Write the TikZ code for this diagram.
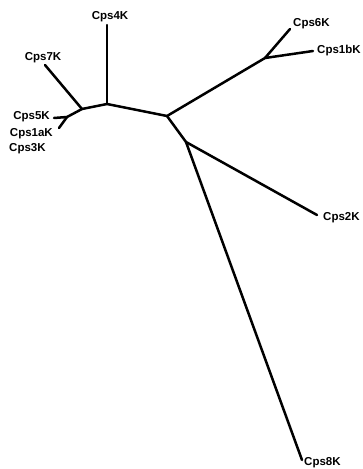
\documentclass[tikz,border=0pt]{standalone}
\usepackage{fontspec}
\setmainfont{Liberation Sans}
\begin{document}
\begin{tikzpicture}[x=1pt,y=-1pt,
  branch/.style={line width=2.5pt,line cap=round,line join=round},
  leaf/.style={font=\bfseries\fontsize{11.5}{13}\selectfont,inner sep=0pt}]
\useasboundingbox (0,0) rectangle (363,469);
% internal junctions
\coordinate (C) at (167,116);
\coordinate (B) at (107,104);
\coordinate (A) at (82,109);
\coordinate (F) at (67,117);
\coordinate (D) at (265,58);
\coordinate (E) at (186,142);
% leaf ends
\coordinate (l4) at (107,25);
\coordinate (l7) at (45,65);
\coordinate (l5) at (54,118);
\coordinate (l1a) at (59,128);
\coordinate (l6) at (290,29);
\coordinate (l1b) at (313,51);
\coordinate (l2) at (317,215);
\coordinate (l8) at (302,460);
% branches
\draw[branch] (C) -- (B);
\draw[branch] (B) -- (A);
\draw[branch] (A) -- (F);
\draw[branch] (F) -- (l5);
\draw[branch] (F) -- (l1a);
\draw[branch] (A) -- (l7);
\draw[branch] (B) -- (l4);
\draw[branch] (C) -- (D);
\draw[branch] (D) -- (l6);
\draw[branch] (D) -- (l1b);
\draw[branch] (C) -- (E);
\draw[branch] (E) -- (l2);
\draw[branch] (E) -- (l8);
% labels
\node[leaf] (t4) at (110,17) {Cps4K};
\node[leaf] (t7) at (43,58) {Cps7K};
\node[leaf,anchor=east] (t5) at (50,117) {Cps5K};
\node[leaf,anchor=east] (t1a) at (53,134) {Cps1aK};
\node[leaf,anchor=west] (t3) at (9,149) {Cps3K};
\node[leaf,anchor=west] (t6) at (293,24) {Cps6K};
\node[leaf,anchor=west] (t1b) at (317,51) {Cps1bK};
\node[leaf,anchor=west] (t2) at (323,218) {Cps2K};
\node[leaf,anchor=west] (t8) at (304,463) {Cps8K};
\end{tikzpicture}
\end{document}
